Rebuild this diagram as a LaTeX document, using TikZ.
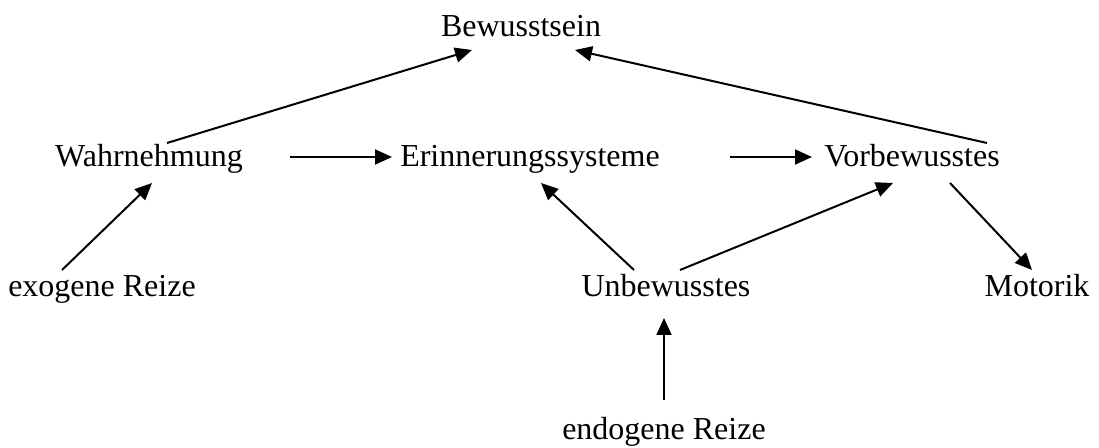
\documentclass[tikz,border=0pt]{standalone}
\usepackage{fontspec}
\setmainfont{Liberation Serif}
\usetikzlibrary{arrows.meta,calc}
\begin{document}
\begin{tikzpicture}[x=0.5pt,y=-0.5pt,
  lbl/.style={anchor=base,inner sep=0pt,font=\fontsize{16}{19}\selectfont},
  arr/.style={line width=1pt,-{Triangle[length=8.5pt,width=7.5pt]}}]
\useasboundingbox (0,0) rectangle (1099,448);
\node[lbl] (bew) at (521,37) {Bewusstsein};
\node[lbl] (wahr) at (149,167) {Wahrnehmung};
\node[lbl] (erin) at (530,167) {Erinnerungssysteme};
\node[lbl] (vorb) at (912,167) {Vorbewusstes};
\node[lbl] (exo) at (102,297) {exogene Reize};
\node[lbl] (unb) at (666,297) {Unbewusstes};
\node[lbl] (mot) at (1037,297) {Motorik};
\node[lbl] (endo) at (664,440) {endogene Reize};
\draw[arr] ($(wahr.base)+(18,-24)$) -- ($(bew.base)+(-49,13)$);
\draw[arr] ($(vorb.base)+(75,-24)$) -- ($(bew.base)+(54,13)$);
\draw[arr] ($(wahr.base)+(141,-10)$) -- ($(erin.base)+(-138,-10)$);
\draw[arr] ($(erin.base)+(200,-10)$) -- ($(vorb.base)+(-100,-10)$);
\draw[arr] ($(exo.base)+(-40,-27)$) -- ($(wahr.base)+(3,16)$);
\draw[arr] ($(unb.base)+(-32,-27)$) -- ($(erin.base)+(11,16)$);
\draw[arr] ($(unb.base)+(14,-27)$) -- ($(vorb.base)+(-19,16)$);
\draw[arr] ($(vorb.base)+(38,16)$) -- ($(mot.base)+(-5,-27)$);
\draw[arr] ($(endo.base)+(0,-40)$) -- ($(unb.base)+(-2,21)$);
\end{tikzpicture}
\end{document}
